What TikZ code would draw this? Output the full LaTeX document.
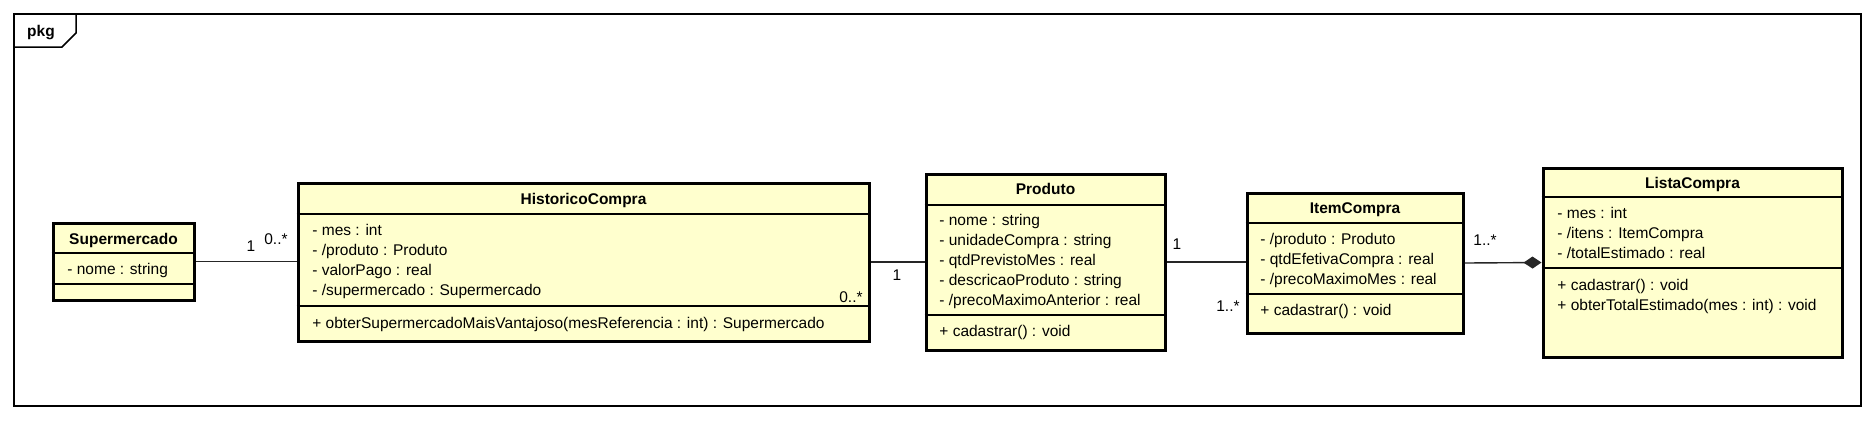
\documentclass[tikz,border=0pt]{standalone}
\usepackage{fontspec}
\setmainfont{Liberation Sans}
\usetikzlibrary{arrows.meta,fit}
\definecolor{classfill}{RGB}{255,255,206}
\begin{document}
\begin{tikzpicture}[x=0.5pt,y=-0.5pt,
  classbox/.style={draw=black, line width=1.5pt, fill=classfill, inner sep=0pt},
  divider/.style={line width=0.6pt},
  txt/.style={anchor=west, inner sep=0pt, font=\fontsize{7.75pt}{9pt}\selectfont, text height=0.75em, text depth=0.2em},
  ttl/.style={inner sep=0pt, font=\fontsize{7.75pt}{9pt}\selectfont\bfseries, text height=0.75em, text depth=0.2em},
  mult/.style={inner sep=0pt, font=\fontsize{7.75pt}{9pt}\selectfont, text height=0.75em, text depth=0.2em},
  assoc/.style={line width=0.7pt, draw=black!85},
  framebox/.style={draw=black, line width=0.75pt}]
\useasboundingbox (0,0) rectangle (1874,420);
% package frame
\draw[framebox] (14,14) rectangle (1861,406);
\draw[framebox] (14,47) -- (62,47) -- (76,33) -- (76,14);
\node[ttl] (pkg) at (41,31) {pkg};

% corner coordinates
\coordinate (sup-nw) at (53,223);   \coordinate (sup-se) at (194,300);
\coordinate (hist-nw) at (298,183); \coordinate (hist-se) at (869,341);
\coordinate (prod-nw) at (926,174); \coordinate (prod-se) at (1165,350);
\coordinate (item-nw) at (1247,193); \coordinate (item-se) at (1463,333);
\coordinate (lista-nw) at (1543,168); \coordinate (lista-se) at (1842,357);

% connectors (drawn first)
\path (sup-nw) (sup-se);
\node[classbox, fit=(sup-nw)(sup-se)] (sup) {};
\node[classbox, fit=(hist-nw)(hist-se)] (hist) {};
\node[classbox, fit=(prod-nw)(prod-se)] (prod) {};
\node[classbox, fit=(item-nw)(item-se)] (item) {};
\node[classbox, fit=(lista-nw)(lista-se)] (lista) {};

\draw[assoc] (sup.east) -- (sup.east -| hist.west);
\draw[assoc] (hist.east) -- (hist.east -| prod.west);
\draw[assoc] (prod.east) -- (prod.east -| item.west);
\draw[assoc, -{Diamond[length=9pt,width=6pt]}] (item.east) -- (lista.west);

% Supermercado
\node[ttl] (sup-t) at (123.5,239) {Supermercado};
\draw[divider] (sup.west |- 0,253) -- (sup.east |- 0,253);
\node[txt] (sup-a1) at (67,269) {- nome : string};
\draw[divider] (sup.west |- 0,284) -- (sup.east |- 0,284);

% HistoricoCompra
\node[ttl] (hist-t) at (583.5,199) {HistoricoCompra};
\draw[divider] (hist.west |- 0,214) -- (hist.east |- 0,214);
\node[txt] (hist-a1) at (312,230) {- mes : int};
\node[txt] (hist-a2) at (312,250) {- /produto : Produto};
\node[txt] (hist-a3) at (312,270) {- valorPago : real};
\node[txt] (hist-a4) at (312,290) {- /supermercado : Supermercado};
\draw[divider] (hist.west |- 0,306) -- (hist.east |- 0,306);
\node[txt] (hist-m1) at (312,323) {+ obterSupermercadoMaisVantajoso(mesReferencia : int) : Supermercado};

% Produto
\node[ttl] (prod-t) at (1045.5,189) {Produto};
\draw[divider] (prod.west |- 0,205) -- (prod.east |- 0,205);
\node[txt] (prod-a1) at (939,220) {- nome : string};
\node[txt] (prod-a2) at (939,240) {- unidadeCompra : string};
\node[txt] (prod-a3) at (939,260) {- qtdPrevistoMes : real};
\node[txt] (prod-a4) at (939,280) {- descricaoProduto : string};
\node[txt] (prod-a5) at (939,300) {- /precoMaximoAnterior : real};
\draw[divider] (prod.west |- 0,315) -- (prod.east |- 0,315);
\node[txt] (prod-m1) at (939,331) {+ cadastrar() : void};

% ItemCompra
\node[ttl] (item-t) at (1355,208) {ItemCompra};
\draw[divider] (item.west |- 0,223) -- (item.east |- 0,223);
\node[txt] (item-a1) at (1260,239) {- /produto : Produto};
\node[txt] (item-a2) at (1260,259) {- qtdEfetivaCompra : real};
\node[txt] (item-a3) at (1260,279) {- /precoMaximoMes : real};
\draw[divider] (item.west |- 0,294) -- (item.east |- 0,294);
\node[txt] (item-m1) at (1260,310) {+ cadastrar() : void};

% ListaCompra
\node[ttl] (lista-t) at (1692.5,183) {ListaCompra};
\draw[divider] (lista.west |- 0,197) -- (lista.east |- 0,197);
\node[txt] (lista-a1) at (1557,213) {- mes : int};
\node[txt] (lista-a2) at (1557,233) {- /itens : ItemCompra};
\node[txt] (lista-a3) at (1557,253) {- /totalEstimado : real};
\draw[divider] (lista.west |- 0,268) -- (lista.east |- 0,268);
\node[txt] (lista-m1) at (1557,285) {+ cadastrar() : void};
\node[txt] (lista-m2) at (1557,305) {+ obterTotalEstimado(mes : int) : void};

% multiplicities
\node[mult] (m1) at (251,246) {1};
\node[mult] (m2) at (276,239) {0..*};
\node[mult] (m3) at (851,297) {0..*};
\node[mult] (m4) at (897,275) {1};
\node[mult] (m5) at (1177,244) {1};
\node[mult] (m6) at (1228,306) {1..*};
\node[mult] (m7) at (1485,240) {1..*};
\end{tikzpicture}
\end{document}
